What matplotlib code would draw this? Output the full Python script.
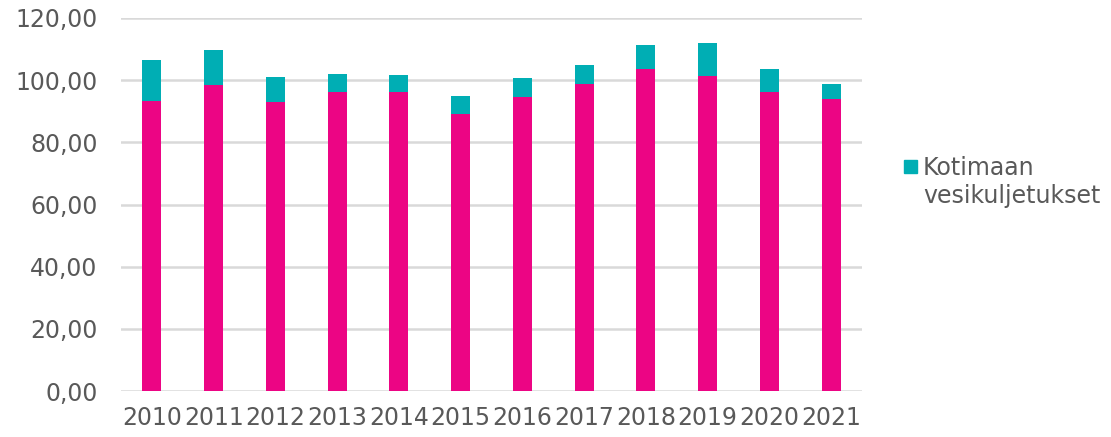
import matplotlib
matplotlib.use("Agg")
import matplotlib.pyplot as plt
from matplotlib.patches import Rectangle
import numpy as np

years = ["2010", "2011", "2012", "2013", "2014", "2015", "2016", "2017", "2018", "2019", "2020", "2021"]
base_values = [93.3, 98.6, 93.1, 96.3, 96.2, 89.2, 94.7, 98.9, 103.7, 101.4, 96.1, 94.0]
kotimaan_vesikuljetukset = [13.2, 11.0, 7.8, 5.6, 5.5, 5.7, 5.9, 6.0, 7.7, 10.5, 7.4, 4.9]
y_ticks = [0, 20, 40, 60, 80, 100, 120]
y_tick_labels = ["0,00", "20,00", "40,00", "60,00", "80,00", "100,00", "120,00"]
legend_label = "Kotimaan\nvesikuljetukset"

pink = "#EC0584"
teal = "#00AEB4"
grey_text = "#595959"
fs = 17

fig = plt.figure(figsize=(11.11, 4.37), dpi=100)
ax = fig.add_axes([121/1111, 1 - 391/437, (862-121)/1111, (391-18)/437])

x = np.arange(len(years))
ax.bar(x, base_values, width=0.31, color=pink, zorder=3)
ax.bar(x, kotimaan_vesikuljetukset, width=0.31, bottom=base_values, color=teal, zorder=3,
       label=legend_label)

ax.set_xlim(-0.5, len(years) - 0.5)
ax.set_ylim(0, 120)
ax.set_yticks(y_ticks)
ax.set_yticklabels(y_tick_labels)
ax.set_xticks(x)
ax.set_xticklabels(years)
ax.tick_params(axis="both", length=0, labelsize=fs, colors=grey_text)
ax.tick_params(axis="y", pad=17)
ax.tick_params(axis="x", pad=11)
ax.yaxis.grid(True, color="#D9D9D9", linewidth=1.8, zorder=0)
ax.set_axisbelow(True)
for s in ax.spines.values():
    s.set_visible(False)

# legend (single entry)
fig.patches.append(Rectangle((904/1111, 1 - 173/437), 13/1111, 13/437,
                             transform=fig.transFigure, color=teal, figure=fig))
lines = legend_label.split("\n")
fig.text(923/1111, 1 - 175/437, lines[0], fontsize=fs, color=grey_text, va="baseline", ha="left")
fig.text(923/1111, 1 - 203/437, lines[1], fontsize=fs, color=grey_text, va="baseline", ha="left")

fig.savefig("out.png", dpi=100)
